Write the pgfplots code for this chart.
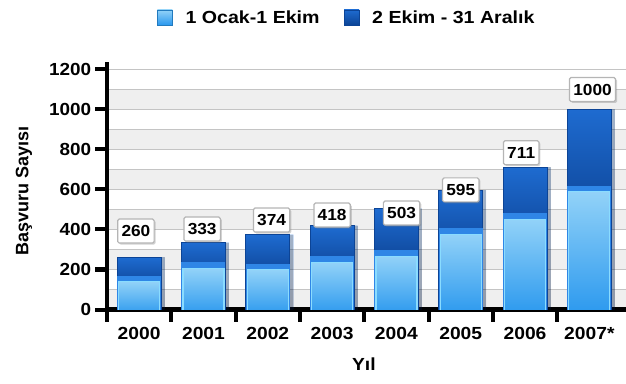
\documentclass[border=0pt]{standalone}
\usepackage{fontspec}
\setmainfont{Liberation Sans}
\usepackage{pgfplots}
\usepackage{pgfplotstable}
\pgfplotsset{compat=1.18}
\usetikzlibrary{shadows}
\definecolor{bandgray}{HTML}{EFEFEF}
\definecolor{gridgray}{HTML}{C4C4C4}
\definecolor{lighttop}{HTML}{92D2F8}
\definecolor{lightbot}{HTML}{2A98EE}
\definecolor{lightedge}{HTML}{8ADCFF}
\definecolor{midblue}{HTML}{2F86E6}
\definecolor{darktop}{HTML}{1E6BD0}
\definecolor{darkbot}{HTML}{002567}
\definecolor{darkedge}{HTML}{0C4496}
\definecolor{boxgray}{HTML}{B5B5B5}
\newcommand\tickfont{\fontsize{17.5}{20}\selectfont\bfseries}
\pgfplotsset{
  layers/mylayers/.define layer set={axis background,axis grid,pre main,main,axis ticks,axis lines,axis tick labels,axis descriptions,axis foreground}{},
}
\pgfplotstableread{
x light total ly lx
0 170 260 392 -0.05
1 235 333 402 0.98
2 228 374 447 2.06
3 266 418 472 3.0
4 296 503 482 4.08
5 406 595 598 5.0
6 481 711 784 5.94
7 619 1000 1100 7.05
}\datatable
\begin{document}
\begin{tikzpicture}[x=1pt,y=1pt]
\begin{axis}[
  set layers=mylayers,
  scale only axis,
  at={(107pt,73.5pt)}, anchor=south west,
  width=519pt, height=240pt,
  xmin=-0.5, xmax=7.57, ymin=0, ymax=1200,
  axis x line*=bottom, axis y line*=left,
  axis line style={line width=4.5pt, black},
  y axis line style={shorten >=-7pt},
  xtick={-0.5,0.5,...,6.5},
  xticklabels={2000,2001,2002,2003,2004,2005,2006,2007*},
  xticklabel style={font=\tickfont, xshift=32.15pt, yshift=-2pt, xscale=1.1},
  ytick={0,200,...,1200},
  minor ytick={100,300,...,1100},
  ymajorgrids, yminorgrids,
  major grid style={gridgray, line width=1.5pt},
  minor grid style={gridgray, line width=1.5pt},
  tick align=outside, major tick length=12pt, minor tick length=0pt,
  tick style={black, line width=4pt},
  yticklabel style={font=\tickfont, xscale=1.08},
  /pgf/number format/assume math mode=true,
  /pgf/number format/1000 sep={},
  ylabel={Başvuru Sayısı},
  xlabel={Yıl},
  every axis y label/.style={at={(axis description cs:-0.16,0.494)}, rotate=90, anchor=center, font=\fontsize{18}{20}\selectfont\bfseries},
  every axis x label/.style={at={(axis description cs:0.495,-0.227)}, anchor=center, font=\fontsize{17.5}{20}\selectfont\bfseries, xscale=1.1},
  legend style={at={(axis description cs:0.462,1.217)}, anchor=center, draw=none, fill=none,
    font=\fontsize{17.5}{20}\selectfont\bfseries,
    /tikz/every even column/.append style={column sep=22pt}},
  legend columns=2,
]
\begin{pgfonlayer}{axis background}
\fill[bandgray] (axis cs:-0.5,0) rectangle (axis cs:7.57,100);
\fill[bandgray] (axis cs:-0.5,200) rectangle (axis cs:7.57,300);
\fill[bandgray] (axis cs:-0.5,400) rectangle (axis cs:7.57,500);
\fill[bandgray] (axis cs:-0.5,600) rectangle (axis cs:7.57,700);
\fill[bandgray] (axis cs:-0.5,800) rectangle (axis cs:7.57,900);
\fill[bandgray] (axis cs:-0.5,1000) rectangle (axis cs:7.57,1100);
\end{pgfonlayer}
\addlegendimage{legend image code/.code={\shade[top color=lighttop, bottom color=lightbot, draw=lightbot!80!black, line width=0.8pt] (0pt,-7.5pt) rectangle (15pt,7.5pt); \path (26pt,0pt);}}
\addlegendentry{\scalebox{1.12}[1]{1 Ocak-1 Ekim}}
\addlegendimage{legend image code/.code={\shade[top color=darktop, bottom color=darkedge, draw=darkedge, line width=0.8pt] (0pt,-7.5pt) rectangle (15pt,7.5pt); \path (26pt,0pt);}}
\addlegendentry{\scalebox{1.12}[1]{2 Ekim - 31 Aralık}}
\pgfplotsinvokeforeach{0,...,7}{
\addplot[forget plot, ybar, bar width=44pt, bar shift=0pt, restrict x to domain=#1:#1,
  preaction={fill=black, fill opacity=0.22, draw=none, transform canvas={xshift=3.5pt}},
  top color=darktop, bottom color=darkbot, draw=darkedge, line width=1pt] table[x=x, y=total] {\datatable};
\addplot[forget plot, ybar, bar width=44pt, bar shift=0pt, restrict x to domain=#1:#1, fill=midblue, draw=none] table[x=x, y=light] {\datatable};
\addplot[forget plot, ybar, bar width=41pt, bar shift=0pt, restrict x to domain=#1:#1, yshift=-6pt, top color=lighttop, bottom color=lightbot, draw=lightedge, line width=1.2pt] table[x=x, y=light] {\datatable};
}
\addplot[forget plot, draw=none, mark=none, nodes near coords, point meta=explicit symbolic,
  every node near coord/.append style={anchor=center, draw=boxgray, fill=white, line width=1.2pt, inner xsep=3.5pt, inner ysep=0pt, minimum height=24pt, rounded corners=1.5pt, drop shadow={shadow xshift=1.5pt, shadow yshift=-1.5pt, opacity=0.35}, font=\fontsize{16}{18}\selectfont\bfseries, xscale=1.08, text=black}] table[x=lx, y=ly, meta=total] {\datatable};
\end{axis}
\pgfresetboundingbox
\useasboundingbox (0,0) rectangle (626,383);
\end{tikzpicture}
\end{document}
